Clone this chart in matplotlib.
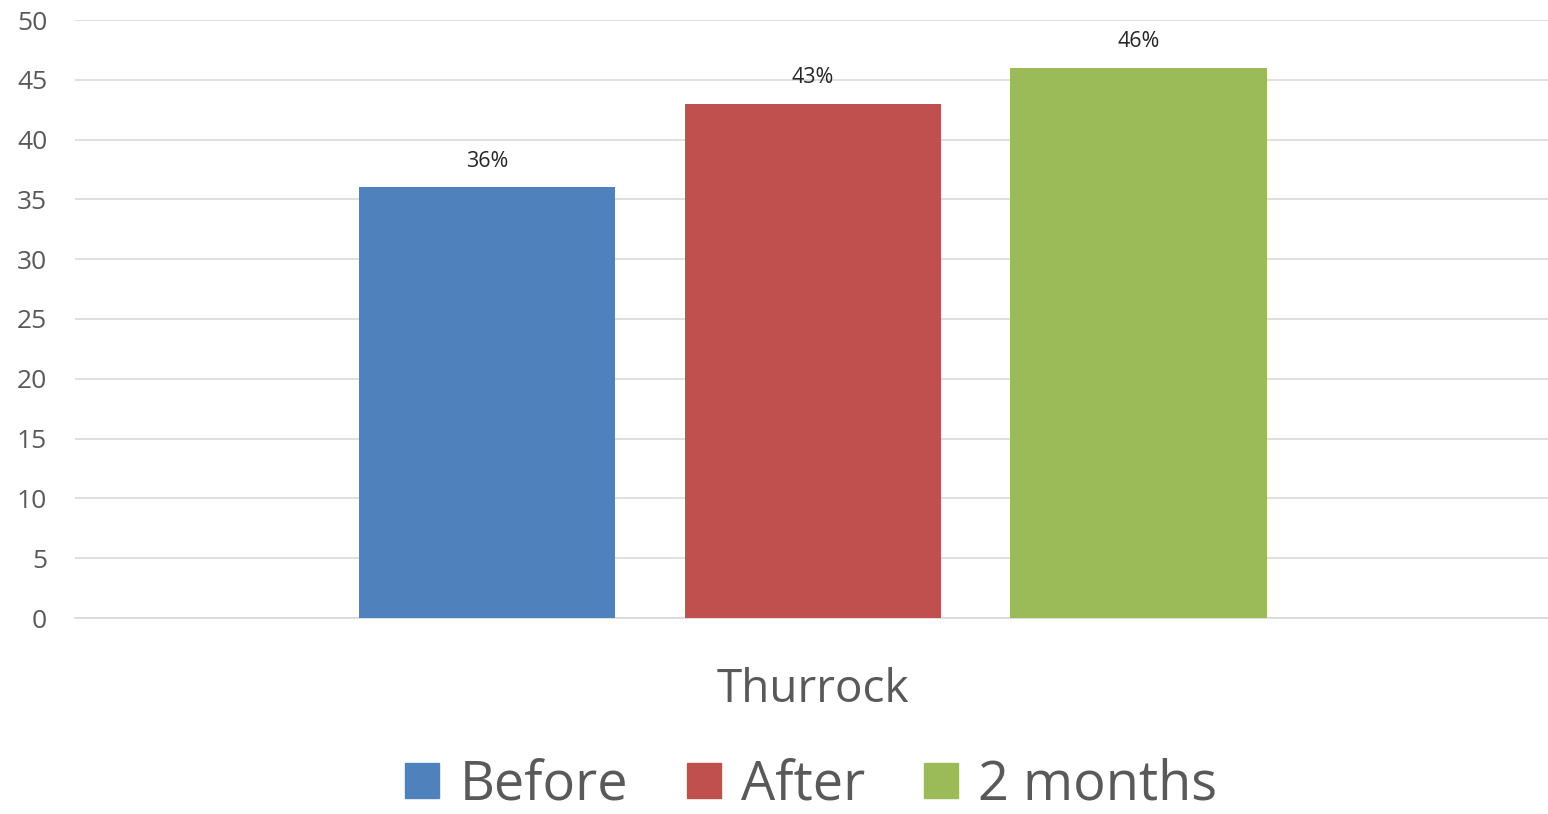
import numpy as np
import matplotlib.pyplot as plt
from matplotlib.patches import Patch

plt.rcParams['font.family'] = ['Open Sans', 'DejaVu Sans']

series = ['Before', 'After', '2 months']
values = [36, 43, 46]
labels = ['36%', '43%', '46%']
colors = ['#4F81BD', '#C0504D', '#9BBB59']
category = 'Thurrock'

fig = plt.figure(figsize=(15.48, 8.14), dpi=100)
ax = fig.add_axes([75/1548, 1 - 618/814, 1 - 75/1548, (618 - 20)/814])

x = np.arange(len(series)) - 1
bars = ax.bar(x, values, width=0.788, color=colors, zorder=3)
for b, lab in zip(bars, labels):
    ax.annotate(lab, (b.get_x() + b.get_width()/2, b.get_height()),
                xytext=(0, 19), textcoords='offset points',
                ha='center', va='center', fontsize=15.5, color='#262626')

ax.set_ylim(0, 50)
ax.set_xlim(-2.264, 2.255)
ax.set_yticks(range(0, 51, 5))
ax.yaxis.grid(True, color='#D9D9D9', linewidth=1.2, zorder=0)
ax.tick_params(axis='y', length=0, pad=20, labelsize=19, labelcolor='#595959')
ax.set_xticks([0], [category])
ax.tick_params(axis='x', length=0, pad=35, labelsize=33, labelcolor='#595959')
for s in ['top', 'right', 'left']:
    ax.spines[s].set_visible(False)
ax.spines['bottom'].set_color('#D9D9D9')
ax.spines['bottom'].set_linewidth(1.2)

handles = [Patch(color=c, label=s) for c, s in zip(colors, series)]
fig.legend(handles=handles, loc='center', bbox_to_anchor=(811/1548, 1 - 785/814),
           ncol=3, frameon=False, fontsize=39, labelcolor='#595959',
           handlelength=0.63, handleheight=0.63, handletextpad=0.37,
           columnspacing=1.08, borderpad=0)

fig.savefig('out.png', dpi=100)
